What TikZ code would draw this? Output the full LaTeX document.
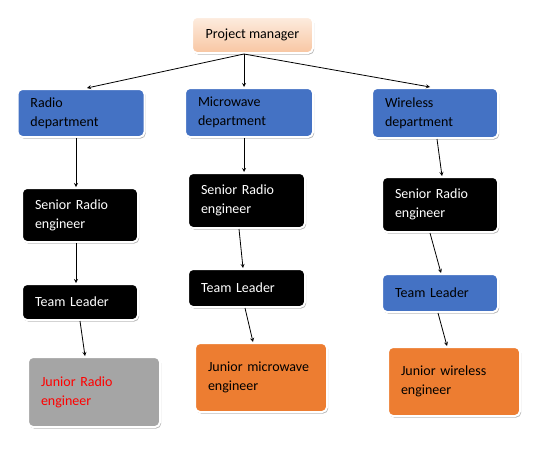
\documentclass[tikz,border=0pt]{standalone}
\usepackage{fontspec}
\setmainfont{Carlito}
\usepackage{tikz}
\usetikzlibrary{arrows,shadows}

\definecolor{deptblue}{HTML}{4472C4}
\definecolor{junorange}{HTML}{ED7D31}
\definecolor{jungray}{HTML}{A5A5A5}
\definecolor{peachtop}{HTML}{FDECDF}
\definecolor{peachbot}{HTML}{F8C6A2}

\begin{document}
\begin{tikzpicture}[x=1pt,y=-1pt,>=stealth,
  box/.style={rectangle,rounded corners=5pt,draw=white,line width=2pt,
    drop shadow={shadow xshift=1.2pt,shadow yshift=-1.5pt,opacity=0.3,fill=black},
    align=left,inner xsep=13pt,font=\fontsize{14}{19}\selectfont},
  dept/.style={box,fill=deptblue,text=black},
  senior/.style={box,fill=black,text=white},
  junior/.style={box,fill=junorange,text=black,minimum width=132pt,text width=106pt,minimum height=69pt},
  link/.style={->,line width=0.8pt}]
  \useasboundingbox (0,0) rectangle (549,458);

  \node[box,top color=peachtop,bottom color=peachbot,minimum width=121pt,minimum height=36pt,inner xsep=2pt] (PM) at (252.5,35) {Project manager};

  \node[dept,minimum width=127pt,text width=101pt,minimum height=48pt] (RadioDep) at (81,113) {Radio\\department};
  \node[dept,minimum width=128pt,text width=102pt,minimum height=49pt] (MicroDep) at (249,112.5) {Microwave\\department};
  \node[dept,minimum width=126pt,text width=100pt,minimum height=50pt] (WirelessDep) at (435,113) {Wireless\\department};

  \node[senior,minimum width=116pt,text width=90pt,minimum height=54pt] (SeniorL) at (80,215) {Senior Radio\\engineer};
  \node[senior,minimum width=117pt,text width=91pt,minimum height=55pt] (SeniorM) at (246.5,200.5) {Senior Radio\\engineer};
  \node[senior,minimum width=116pt,text width=90pt,minimum height=55pt] (SeniorR) at (440,204.5) {Senior Radio\\engineer};

  \node[senior,minimum width=116pt,text width=90pt,minimum height=36pt] (LeaderL) at (80,302) {Team Leader};
  \node[senior,minimum width=117pt,text width=91pt,minimum height=38pt] (LeaderM) at (246.5,288) {Team Leader};
  \node[dept,minimum width=116pt,text width=90pt,minimum height=38pt] (LeaderR) at (440,293) {Team Leader};

  \node[junior,fill=jungray,text=red,minimum height=70pt] (JuniorL) at (94,392) {Junior Radio\\engineer};
  \node[junior] (JuniorM) at (261,377.5) {Junior microwave\\engineer};
  \node[junior] (JuniorR) at (454,381.5) {Junior wireless\\engineer};

  \draw[link] ([xshift=-8.5pt]PM.south) -- ([xshift=6pt]RadioDep.north);
  \draw[link] ([xshift=-8.5pt]PM.south) -- ([xshift=-5pt]MicroDep.north);
  \draw[link] ([xshift=-8.5pt]PM.south) -- ([xshift=-5pt]WirelessDep.north);

  \draw[link] ([xshift=-5pt]RadioDep.south) -- ([xshift=-4pt]SeniorL.north);
  \draw[link] ([xshift=-4pt]SeniorL.south) -- ([xshift=-4pt]LeaderL.north);
  \draw[link] (LeaderL.south) -- ([xshift=-9pt]JuniorL.north);

  \draw[link] ([xshift=-5pt]MicroDep.south) -- ([xshift=-2.5pt]SeniorM.north);
  \draw[link] ([xshift=-7.5pt]SeniorM.south) -- ([xshift=-3.5pt]LeaderM.north);
  \draw[link] ([xshift=-1.5pt]LeaderM.south) -- ([xshift=-8pt]JuniorM.north);

  \draw[link] ([xshift=2pt]WirelessDep.south) -- ([xshift=2pt]SeniorR.north);
  \draw[link] ([xshift=-10pt]SeniorR.south) -- ([xshift=1pt]LeaderR.north);
  \draw[link] ([xshift=-2pt]LeaderR.south) -- ([xshift=-7pt]JuniorR.north);
\end{tikzpicture}
\end{document}
